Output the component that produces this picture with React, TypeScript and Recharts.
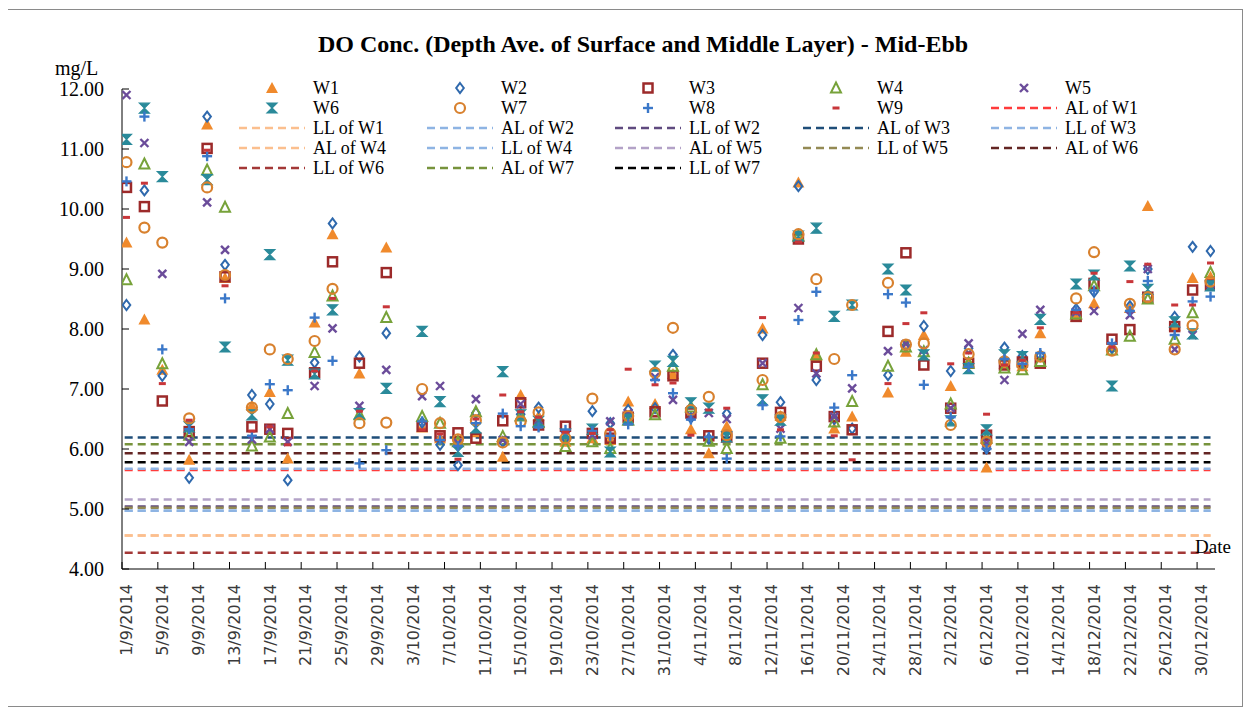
import React from 'react';
import { ScatterChart, Scatter, XAxis, YAxis, ReferenceLine } from 'recharts';

// sampling dates (day/month, 2014)
const sampleDates = [
  '1/9', '3/9', '5/9', '8/9', '10/9', '12/9', '15/9', '17/9', '19/9', '22/9', '24/9', '27/9', '30/9',
  '4/10', '6/10', '8/10', '10/10', '13/10', '15/10', '17/10', '20/10', '23/10', '25/10', '27/10', '30/10',
  '1/11', '3/11', '5/11', '7/11', '11/11', '13/11', '15/11', '17/11', '19/11', '21/11', '25/11', '27/11', '29/11',
  '2/12', '4/12', '6/12', '8/12', '10/12', '12/12', '16/12', '18/12', '20/12', '22/12', '24/12', '27/12', '29/12', '31/12',
];

const w1 = [9.44, 8.16, 7.32, 5.82, 11.41, 8.85, 6.72, 6.95, 5.84, 8.11, 9.58, 7.26, 9.36, 6.36, 6.18, 6.15, 6.28, 5.87, 6.9, 6.55, 6.12, 6.18, 6.15, 6.79, 6.75, 7.25, 6.33, 5.93, 6.38, 8.01, 6.55, 10.44, 7.55, 6.34, 6.54, 6.94, 7.62, 7.9, 7.05, 7.45, 5.69, 7.42, 7.38, 7.93, 8.2, 8.43, 7.7, 8.35, 10.05, 8.05, 8.85, 8.87];
const w2 = [8.4, 10.31, 7.22, 5.52, 11.54, 9.07, 6.9, 6.75, 5.48, 7.44, 9.76, 7.54, 7.93, 6.44, 6.07, 5.73, 6.6, 6.12, 6.58, 6.69, 6.18, 6.63, 6.43, 6.65, 6.68, 7.57, 6.52, 6.17, 6.59, 7.9, 6.78, 10.38, 7.15, 6.5, 6.34, 7.23, 7.72, 8.05, 7.3, 7.68, 6.01, 7.69, 7.55, 7.56, 8.33, 8.62, 7.68, 8.38, 9.0, 8.2, 9.37, 9.3];
const w3 = [10.36, 10.04, 6.8, 6.29, 11.01, 8.87, 6.37, 6.33, 6.26, 7.27, 9.12, 7.43, 8.94, 6.38, 6.22, 6.27, 6.18, 6.47, 6.77, 6.4, 6.38, 6.26, 6.18, 6.53, 6.62, 7.22, 6.6, 6.22, 6.2, 7.43, 6.61, 9.5, 7.38, 6.54, 6.32, 7.96, 9.27, 7.4, 6.68, 7.43, 6.23, 7.4, 7.45, 7.43, 8.21, 8.76, 7.83, 7.99, 8.53, 8.04, 8.65, 8.73];
const w4 = [8.82, 10.75, 7.42, 6.23, 10.65, 10.03, 6.05, 6.2, 6.59, 7.61, 8.55, 6.57, 8.19, 6.54, 6.43, 6.12, 6.62, 6.21, 6.55, 6.44, 6.04, 6.12, 6.01, 6.48, 6.57, 7.38, 6.7, 6.13, 6.01, 7.07, 6.18, 9.55, 7.57, 6.45, 6.79, 7.38, 7.7, 7.62, 6.75, 7.43, 6.18, 7.35, 7.32, 7.46, 8.25, 8.72, 7.65, 7.88, 8.5, 7.83, 8.27, 8.94];
const w5 = [11.9, 11.1, 8.92, 6.12, 10.11, 9.32, 6.16, 6.33, 6.12, 7.05, 8.01, 6.72, 7.32, 6.88, 7.05, 6.1, 6.83, 6.15, 6.75, 6.48, 6.22, 6.23, 6.46, 6.6, 7.2, 6.82, 6.55, 6.6, 6.5, 7.43, 6.34, 8.35, 7.26, 6.54, 7.01, 7.63, 7.75, 7.65, 6.68, 7.76, 6.1, 7.15, 7.92, 8.32, 8.28, 8.3, 7.72, 8.23, 9.0, 7.66, 7.9, 8.75];
const w6 = [11.16, 11.68, 10.54, 6.37, 10.49, 7.7, 6.57, 9.24, 7.48, 7.25, 8.32, 6.59, 7.01, 7.96, 6.79, 5.96, 6.35, 7.29, 6.57, 6.46, 6.25, 6.33, 5.95, 6.5, 7.38, 7.46, 6.77, 6.68, 6.2, 6.82, 6.48, 9.55, 9.68, 8.21, 8.4, 9.0, 8.65, 7.57, 6.47, 7.34, 6.32, 7.57, 7.54, 8.16, 8.75, 8.9, 7.05, 9.05, 8.66, 8.12, 7.92, 8.72];
const w7 = [10.78, 9.69, 9.44, 6.51, 10.36, 8.9, 6.69, 7.66, 7.5, 7.8, 8.67, 6.43, 6.44, 7.0, 6.43, 6.16, 6.48, 6.11, 6.46, 6.61, 6.18, 6.84, 6.26, 6.55, 7.27, 8.02, 6.65, 6.87, 6.23, 7.15, 6.53, 9.58, 8.83, 7.5, 8.4, 8.77, 7.74, 7.76, 6.4, 7.58, 6.12, 7.46, 7.4, 7.54, 8.51, 9.28, 7.64, 8.42, 8.53, 7.66, 8.06, 8.79];
const w8 = [10.46, 11.54, 7.66, 6.33, 10.88, 8.51, 6.22, 7.08, 6.98, 8.19, 7.47, 5.76, 5.98, 6.46, 6.15, 6.05, 6.43, 6.59, 6.38, 6.36, 6.32, 6.3, 6.22, 6.41, 7.15, 6.93, 6.49, 6.2, 5.84, 6.73, 6.21, 8.15, 8.62, 6.69, 7.23, 8.58, 8.44, 7.07, 6.53, 7.37, 6.0, 7.5, 7.42, 7.6, 8.32, 8.64, 7.76, 8.3, 8.8, 7.9, 8.46, 8.54];
const w9 = [9.86, 10.43, 7.09, 6.48, 10.98, 8.72, 6.3, 6.37, 6.07, 7.3, 8.51, 6.63, 8.37, 6.32, 6.25, 5.83, 6.5, 6.9, 6.62, 6.53, 6.28, 6.26, 6.32, 7.33, 7.07, 7.1, 6.23, 6.65, 6.68, 8.19, 6.32, 9.45, 7.6, 6.22, 5.82, 7.09, 8.09, 8.27, 7.42, 7.6, 6.58, 7.4, 7.48, 8.02, 8.27, 8.93, 7.7, 8.79, 9.08, 8.4, 8.4, 9.1];

const seriesNames = ['W1', 'W2', 'W3', 'W4', 'W5', 'W6', 'W7', 'W8', 'W9'];
const seriesValues = [w1, w2, w3, w4, w5, w6, w7, w8, w9];

const limitNames = [
  'AL of W1', 'LL of W1', 'AL of W2', 'LL of W2', 'AL of W3', 'LL of W3', 'AL of W4',
  'LL of W4', 'AL of W5', 'LL of W5', 'AL of W6', 'LL of W6', 'AL of W7', 'LL of W7',
];
const limitLevels = [5.65, 4.56, 5.67, 5.04, 6.19, 4.97, 4.56, 4.97, 5.16, 5.02, 5.93, 4.27, 6.08, 5.78];

const tickLabels = [
  '1/9/2014', '5/9/2014', '9/9/2014', '13/9/2014', '17/9/2014', '21/9/2014', '25/9/2014', '29/9/2014',
  '3/10/2014', '7/10/2014', '11/10/2014', '15/10/2014', '19/10/2014', '23/10/2014', '27/10/2014', '31/10/2014',
  '4/11/2014', '8/11/2014', '12/11/2014', '16/11/2014', '20/11/2014', '24/11/2014', '28/11/2014',
  '2/12/2014', '6/12/2014', '10/12/2014', '14/12/2014', '18/12/2014', '22/12/2014', '26/12/2014', '30/12/2014',
];
const yTicks = [4, 5, 6, 7, 8, 9, 10, 11, 12];

const seriesColors: Record<string, string> = {
  W1: '#f08a2c', W2: '#2f69ad', W3: '#9c2a2a', W4: '#77a23a', W5: '#6b4c9a',
  W6: '#2a8a9a', W7: '#d8812e', W8: '#3b78c9', W9: '#c8363a',
};
const limitColors = [
  '#ff3b3b', '#fbbf8e', '#8eb4e3', '#5f4a7f', '#1f4e79', '#8eb4e3', '#fbbf8e',
  '#8eb4e3', '#b3a2c7', '#948a54', '#632523', '#a33837', '#77933c', '#000000',
];

const SERIF = '"Liberation Serif", "Times New Roman", serif';
const W = 1234;
const H = 696;
const PL = 114;
const PR = 1207;
const PT = 79;
const PB = 559;
const DAYS = 122;
const DAY_PX = (PR - PL) / DAYS;

function dayIndex(dm: string) {
  const [d, m] = dm.split('/').map(Number);
  return Math.round((Date.UTC(2014, m - 1, d) - Date.UTC(2014, 8, 1)) / 86400000);
}

const tickValues = tickLabels.map((t) => dayIndex(t.replace('/2014', '')) + 0.5);

function marker(name: string, cx: number, cy: number) {
  const c = seriesColors[name];
  switch (name) {
    case 'W1':
      return <polygon points={`${cx - 6},${cy + 5} ${cx + 6},${cy + 5} ${cx},${cy - 6}`} fill={c} />;
    case 'W2':
      return <polygon points={`${cx},${cy - 5} ${cx + 3.8},${cy} ${cx},${cy + 5} ${cx - 3.8},${cy}`} fill="none" stroke={c} strokeWidth={2} />;
    case 'W3':
      return <rect x={cx - 4.5} y={cy - 4.5} width={9} height={9} fill="none" stroke={c} strokeWidth={2.5} />;
    case 'W4':
      return <polygon points={`${cx - 5},${cy + 4.5} ${cx + 5},${cy + 4.5} ${cx},${cy - 5.5}`} fill="none" stroke={c} strokeWidth={2} />;
    case 'W5':
      return (
        <g stroke={c} strokeWidth={2.4}>
          <line x1={cx - 4} y1={cy - 4} x2={cx + 4} y2={cy + 4} />
          <line x1={cx - 4} y1={cy + 4} x2={cx + 4} y2={cy - 4} />
        </g>
      );
    case 'W6':
      return <polygon points={`${cx - 5},${cy - 5} ${cx + 5},${cy - 5} ${cx - 5},${cy + 5} ${cx + 5},${cy + 5}`} fill={c} stroke={c} strokeWidth={1.2} />;
    case 'W7':
      return <circle cx={cx} cy={cy} r={5} fill="none" stroke={c} strokeWidth={2.2} />;
    case 'W8':
      return (
        <g stroke={c} strokeWidth={2.4}>
          <line x1={cx - 5} y1={cy} x2={cx + 5} y2={cy} />
          <line x1={cx} y1={cy - 5} x2={cx} y2={cy + 5} />
        </g>
      );
    default:
      return <rect x={cx - 3.5} y={cy - 1.5} width={7} height={3} fill={c} />;
  }
}

const YTick = (p: any) => (
  <g>
    <line x1={PL} x2={PL + 7} y1={p.y} y2={p.y} stroke="#000" />
    <text x={p.x} y={p.y} dy="0.35em" textAnchor="end" fontFamily={SERIF} fontSize={20} fill="#000">
      {Number(p.payload.value).toFixed(2)}
    </text>
  </g>
);

const XTick = (p: any) => {
  const i = tickValues.indexOf(p.payload.value);
  const bx = p.x - DAY_PX / 2;
  return (
    <g>
      <line x1={bx} x2={bx} y1={PB} y2={PB - 7} stroke="#000" />
      <text
        transform={`translate(${p.x},${p.y}) rotate(-90)`}
        textAnchor="end"
        dy="0.36em"
        fontFamily='"DejaVu Sans", sans-serif'
        fontSize={16}
        fill="#3a3a3a"
      >
        {tickLabels[i]}
      </text>
    </g>
  );
};

export default function App() {
  const seriesData = seriesValues.map((vals) =>
    vals.map((v, i) => ({ x: dayIndex(sampleDates[i]) + 0.5, y: v }))
  );
  const legendItems = [...seriesNames, ...limitNames];

  return (
    <div
      style={{
        position: 'relative',
        marginLeft: -1,
        marginTop: 1,
        width: W + 2,
        height: H + 2,
        border: '1px solid #8a8a8a',
        boxSizing: 'border-box',
        background: '#fff',
      }}
    >
      <div style={{ position: 'absolute', left: 0, top: 0 }}>
        <ScatterChart width={W} height={H} margin={{ top: PT, right: W - PR, left: PL - 60, bottom: 17 }}>
          <XAxis
            type="number"
            dataKey="x"
            domain={[0, DAYS]}
            ticks={tickValues}
            interval={0}
            tickSize={0}
            tickMargin={15}
            height={120}
            axisLine={{ stroke: '#000' }}
            tickLine={false}
            tick={<XTick />}
            allowDataOverflow
          />
          <YAxis
            type="number"
            dataKey="y"
            domain={[4, 12]}
            ticks={yTicks}
            interval={0}
            tickSize={0}
            tickMargin={18}
            width={60}
            axisLine={{ stroke: '#000' }}
            tickLine={false}
            tick={<YTick />}
            allowDataOverflow
          />
          {limitLevels.map((lv, i) => (
            <ReferenceLine
              key={limitNames[i]}
              segment={[{ x: 0.3, y: lv }, { x: DAYS - 0.5, y: lv }]}
              stroke={limitColors[i]}
              strokeWidth={2.5}
              strokeDasharray="8 5"
            />
          ))}
          {seriesNames.map((name, i) => (
            <Scatter
              key={name}
              name={name}
              data={seriesData[i]}
              isAnimationActive={false}
              shape={(p: any) => marker(name, p.cx, p.cy)}
            />
          ))}
        </ScatterChart>
      </div>
      <svg width={W} height={H} style={{ position: 'absolute', left: 0, top: 0, pointerEvents: 'none' }}>
        <text x={635} y={42} textAnchor="middle" fontFamily={SERIF} fontWeight="bold" fontSize={24} fill="#000">
          DO Conc. (Depth Ave. of Surface and Middle Layer) - Mid-Ebb
        </text>
        <text x={47} y={65} fontFamily={SERIF} fontSize={20} fill="#000">mg/L</text>
        <text x={1187} y={543} fontFamily={SERIF} fontSize={19} fill="#000">Date</text>
        {legendItems.map((name, i) => {
          const col = i % 5;
          const row = Math.floor(i / 5);
          const sx = 264 + col * 188;
          const sy = 78 + row * 20;
          const li = limitNames.indexOf(name);
          return (
            <g key={name}>
              {li >= 0 ? (
                <line x1={sx - 33} x2={sx + 33} y1={sy} y2={sy} stroke={limitColors[li]} strokeWidth={2.5} strokeDasharray="8 5" />
              ) : (
                marker(name, sx, sy)
              )}
              <text x={sx + 41} y={sy} dy="0.33em" fontFamily={SERIF} fontSize={18} fill="#000">
                {name}
              </text>
            </g>
          );
        })}
      </svg>
    </div>
  );
}
